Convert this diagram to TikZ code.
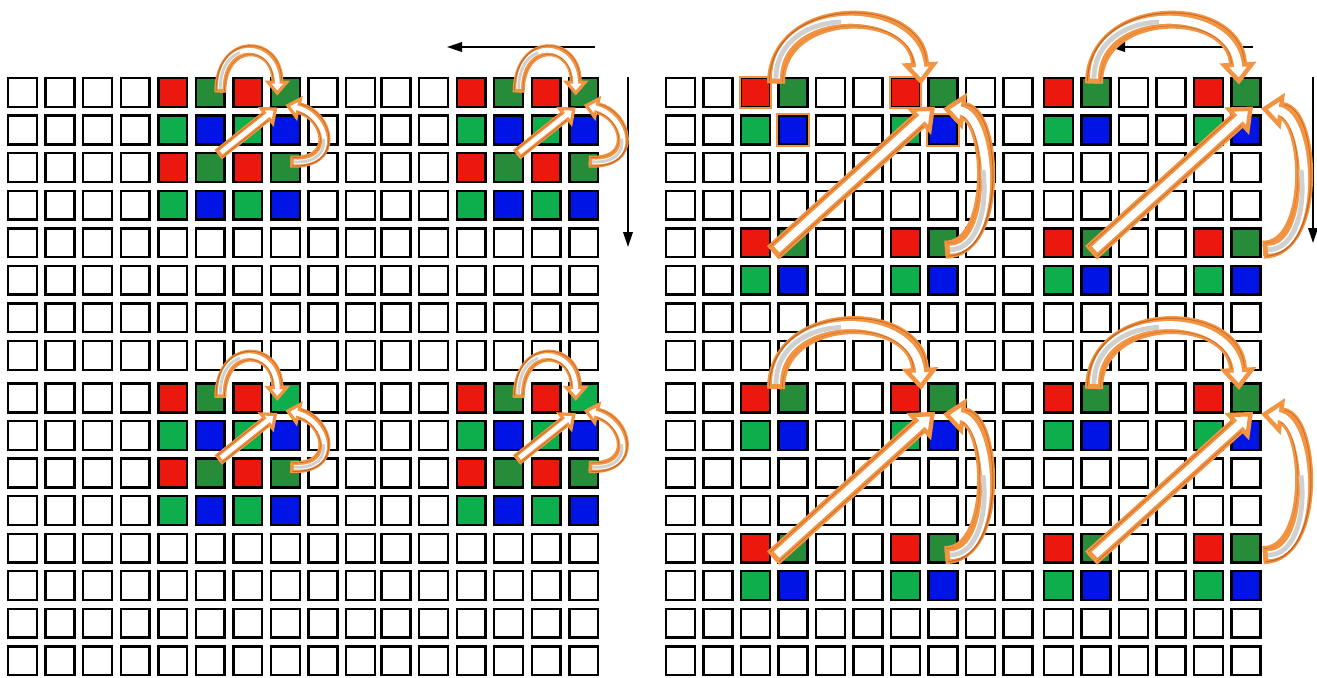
\documentclass[tikz,border=0pt]{standalone}
\usepackage{tikz}
\usetikzlibrary{arrows.meta}
\definecolor{bayer0}{RGB}{236,24,14}
\definecolor{bayer1}{RGB}{38,140,58}
\definecolor{bayer2}{RGB}{14,174,76}
\definecolor{bayer3}{RGB}{0,20,230}
\definecolor{bayer4}{RGB}{255,255,255}
\definecolor{ArrOrange}{RGB}{242,148,66}
\definecolor{ArrDark}{RGB}{196,104,40}
\definecolor{ArrGray}{RGB}{208,208,208}
\tikzset{
  cell/.style    ={rectangle, draw=black, line width=1.2pt, minimum size=14.4pt, inner sep=0pt},
  hilite/.style  ={draw=ArrOrange, line width=1pt},
  scanarr/.style ={-{Triangle[length=7.5pt,width=4.8pt]}, draw=black, line width=.8pt},
  sarr/.style    ={draw=ArrOrange, line width=6pt,
                   -{Triangle[length=7.5pt,width=12.5pt,line width=1.6pt,fill=white]},
                   postaction={draw=ArrDark, arrows=-, line width=4.6pt, shorten >=7.5pt, shorten <=.8pt},
                   postaction={draw=ArrOrange, arrows=-, line width=3.8pt, shorten >=7.5pt},
                   postaction={draw=white, arrows=-, line width=2.4pt, shorten >=5.5pt, shorten <=1.8pt}},
  sarc/.style    ={sarr, postaction={draw=ArrGray, arrows=-, line width=1.4pt,
                   dash pattern=on 22pt off 900pt, shorten <=1.8pt}},
  barr/.style    ={draw=ArrOrange, line width=9pt,
                   -{Triangle[length=11pt,width=18pt,line width=2.2pt,fill=white]},
                   postaction={draw=ArrDark, arrows=-, line width=6.9pt, shorten >=11pt, shorten <=1.1pt},
                   postaction={draw=ArrOrange, arrows=-, line width=6.1pt, shorten >=11pt},
                   postaction={draw=white, arrows=-, line width=4pt, shorten >=8.5pt, shorten <=2.5pt}},
  barc/.style    ={barr, postaction={draw=ArrGray, arrows=-, line width=2.4pt,
                   dash pattern=on 48pt off 900pt, shorten <=2.5pt}},
}

\begin{document}
\begin{tikzpicture}[x=.5pt,y=-.5pt]
  \useasboundingbox (0,0) rectangle (1317,677);
  % left sensor, 4x4 bayer patches
  \foreach \r in {0,...,15}{
    \foreach \c in {0,...,15}{
      \pgfmathsetmacro\cx{22.5+37.55*\c-2*(\c>9)}
      \pgfmathsetmacro\cy{92.5+37.55*\r+5*(\r>7)}
      \pgfmathtruncatemacro\k{(mod(\r,8)<4 && mod(\c,8)>3) ? 2*mod(\r,2)+mod(\c,2) : 4}
      \pgfmathtruncatemacro\k{(\r==8 && mod(\c,8)==7) ? 2 : \k}
      \node[cell,fill=bayer\k] (a-\r-\c) at (\cx,\cy) {};
    }
  }
  % right sensor, 2x2 bayer patches
  \foreach \r in {0,...,15}{
    \foreach \c in {0,...,15}{
      \pgfmathsetmacro\cx{680.5+37.5*\c+3*(\c>9)}
      \pgfmathsetmacro\cy{92.5+37.55*\r+5*(\r>7)}
      \pgfmathtruncatemacro\k{(mod(\r,4)<2 && mod(\c,4)>1) ? 2*mod(\r,2)+mod(\c,2) : 4}
      \node[cell,fill=bayer\k] (b-\r-\c) at (\cx,\cy) {};
    }
  }
  \foreach \n in {b-0-2,b-1-3,b-0-6,b-1-7}{\draw[hilite] (\n.north west) rectangle (\n.south east);}

  % scan direction
  \coordinate (ltop-s) at (595,47);   \coordinate (ltop-e) at (447,47);
  \coordinate (lside-s) at (628,77);  \coordinate (lside-e) at (628,247);
  \coordinate (rtop-s) at (1253,47);  \coordinate (rtop-e) at (1110,47);
  \coordinate (rside-s) at (1313,77); \coordinate (rside-e) at (1313,243);
  \foreach \a/\b in {ltop-s/ltop-e,lside-s/lside-e,rtop-s/rtop-e,rside-s/rside-e}{\draw[scanarr] (\a) -- (\b);}

  % green interpolation, left sensor
  \foreach \ra/\rb/\ca/\cb in {0/2/5/7,0/2/13/15,8/10/5/7,8/10/13/15}{
    \draw[sarc] ([shift={(10,0)}]a-\ra-\ca.center) .. controls +(0,-56) and +(0,-56) .. ([shift={(-8,3)}]a-\ra-\cb.center);
    \draw[sarr] ([shift={(8,-13)}]a-\rb-\ca.center) -- ([shift={(-8,15)}]a-\ra-\cb.center);
    \draw[sarc] ([shift={(5,-6)}]a-\rb-\cb.center) .. controls +(50,3) and +(43,10) .. ([shift={(0,12.5)}]a-\ra-\cb.center);
  }
  % green interpolation, right sensor
  \foreach \ra/\rb/\ca/\cb/\dx in {0/4/3/7/0,0/4/11/15/15,8/12/3/7/0,8/12/11/15/15}{
    \draw[barc] ([shift={(-17+\dx,-9)}]b-\ra-\ca.center) .. controls +(0,-82) and +(-4,-82) .. ([shift={(-22+\dx,-8)}]b-\ra-\cb.center);
    \draw[barr] ([shift={(-20+\dx,10)}]b-\rb-\ca.center) -- ([shift={(-8+\dx,14)}]b-\ra-\cb.center);
    \draw[barc] ([shift={(2+\dx,7)}]b-\rb-\cb.center) .. controls +(55,0) and +(50,6) .. ([shift={(\dx,16)}]b-\ra-\cb.center);
  }
\end{tikzpicture}
\end{document}
